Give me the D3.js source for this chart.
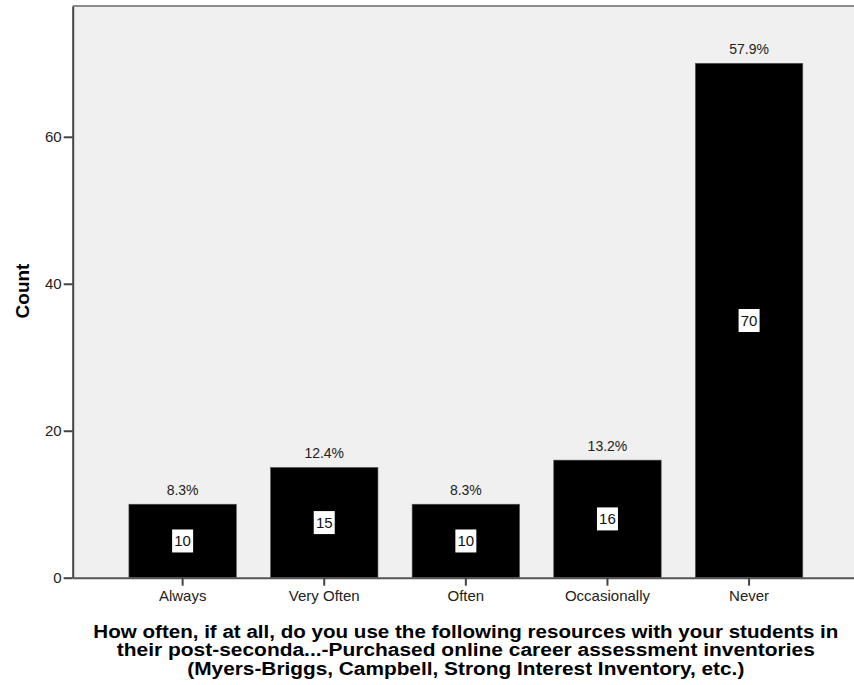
<!DOCTYPE html>
<html>
<head>
<meta charset="utf-8">
<script src="https://cdn.jsdelivr.net/npm/d3@7"></script>
<style>
  html, body { margin: 0; padding: 0; background: #fff; }
  svg { display: block; font-family: Arial, "Liberation Sans", sans-serif; }
</style>
</head>
<body>
<svg id="chart" width="854" height="685"></svg>
<script>
// Response categories and counts
const categories = ["Always", "Very Often", "Often", "Occasionally", "Never"];
const counts = [10, 15, 10, 16, 70];
const percentLabels = ["8.3%", "12.4%", "8.3%", "13.2%", "57.9%"];
const yTicks = [0, 20, 40, 60];
const yLabel = "Count";
const xTitleLines = [
  "How often, if at all, do you use the following resources with your students in",
  "their post-seconda...-Purchased online career assessment inventories",
  "(Myers-Briggs, Campbell, Strong Interest Inventory, etc.)"
];
// Rendered width of each title line (condensed bold face)
const titleLineWidths = [745, 698, 557];

const svg = d3.select("#chart");
const plot = { left: 72.7, top: 6, right: 859, bottom: 577.7 };
const FONT = "Arial, 'Liberation Sans', sans-serif";

const x = d3.scaleBand()
  .domain(categories)
  .range([plot.left, plot.right])
  .paddingInner(0.2415)
  .paddingOuter(0.397);

const y = d3.scaleLinear()
  .domain([0, 77.8])
  .range([plot.bottom, plot.top]);

// Plot background
svg.append("rect")
  .attr("x", plot.left).attr("y", plot.top)
  .attr("width", plot.right - plot.left)
  .attr("height", plot.bottom - plot.top)
  .attr("fill", "#f0f0f0");

// Top frame line
svg.append("line")
  .attr("x1", plot.left).attr("x2", plot.right)
  .attr("y1", plot.top).attr("y2", plot.top)
  .attr("stroke", "#8c8c8c").attr("stroke-width", 2);

const data = categories.map((c, i) => ({ cat: c, count: counts[i], pct: percentLabels[i] }));

// Bars
svg.append("g").selectAll("rect")
  .data(data).join("rect")
  .attr("x", d => x(d.cat))
  .attr("y", d => y(d.count))
  .attr("width", x.bandwidth())
  .attr("height", d => y(0) - y(d.count))
  .attr("fill", "#000")
  .attr("stroke", "#555")
  .attr("stroke-width", 0.6);

// Percentage labels above bars
svg.append("g").selectAll("text")
  .data(data).join("text")
  .attr("x", d => x(d.cat) + x.bandwidth() / 2)
  .attr("y", d => y(d.count) - 9)
  .attr("text-anchor", "middle")
  .attr("font-size", 14)
  .attr("fill", "#222")
  .text(d => d.pct);

// Count labels in white boxes at bar middle
const inner = svg.append("g").selectAll("g")
  .data(data).join("g")
  .attr("transform", d => `translate(${x(d.cat) + x.bandwidth() / 2},${(y(d.count) + y(0)) / 2})`);
inner.append("rect")
  .attr("x", -10.5).attr("y", -11.5)
  .attr("width", 21).attr("height", 23)
  .attr("fill", "#fff");
inner.append("text")
  .attr("text-anchor", "middle")
  .attr("dy", "0.36em")
  .attr("font-size", 15)
  .attr("fill", "#111")
  .text(d => d.count);

// Y axis
const yAxis = svg.append("g")
  .attr("transform", `translate(${plot.left},0)`)
  .call(d3.axisLeft(y).tickValues(yTicks).tickSize(9).tickPadding(2).tickSizeOuter(0));
yAxis.select(".domain").attr("stroke", "#444").attr("stroke-width", 2);
yAxis.selectAll(".tick line").attr("stroke", "#444").attr("stroke-width", 2);
yAxis.selectAll(".tick text").attr("font-size", 15).attr("fill", "#222").attr("font-family", FONT);

// X axis
const xAxis = svg.append("g")
  .attr("transform", `translate(0,${plot.bottom})`)
  .call(d3.axisBottom(x).tickSize(8).tickPadding(5).tickSizeOuter(0));
xAxis.select(".domain").attr("stroke", "#555").attr("stroke-width", 2);
xAxis.selectAll(".tick line").attr("stroke", "#444").attr("stroke-width", 2);
xAxis.selectAll(".tick text").attr("font-size", 15).attr("fill", "#222").attr("font-family", FONT);

// Y axis title
svg.append("text")
  .attr("transform", `translate(29,291) rotate(-90)`)
  .attr("text-anchor", "middle")
  .attr("font-size", 19)
  .attr("font-weight", "bold")
  .attr("fill", "#000")
  .text(yLabel);

// X axis title, each line fitted to its width
const cx = (plot.left + plot.right) / 2;
svg.append("g").selectAll("text")
  .data(xTitleLines).join("text")
  .attr("x", cx)
  .attr("y", (d, i) => 637.5 + i * 18.5)
  .attr("text-anchor", "middle")
  .attr("font-size", 18)
  .attr("font-weight", "bold")
  .attr("fill", "#000")
  .attr("textLength", (d, i) => titleLineWidths[i])
  .attr("lengthAdjust", "spacingAndGlyphs")
  .text(d => d);
</script>
</body>
</html>
